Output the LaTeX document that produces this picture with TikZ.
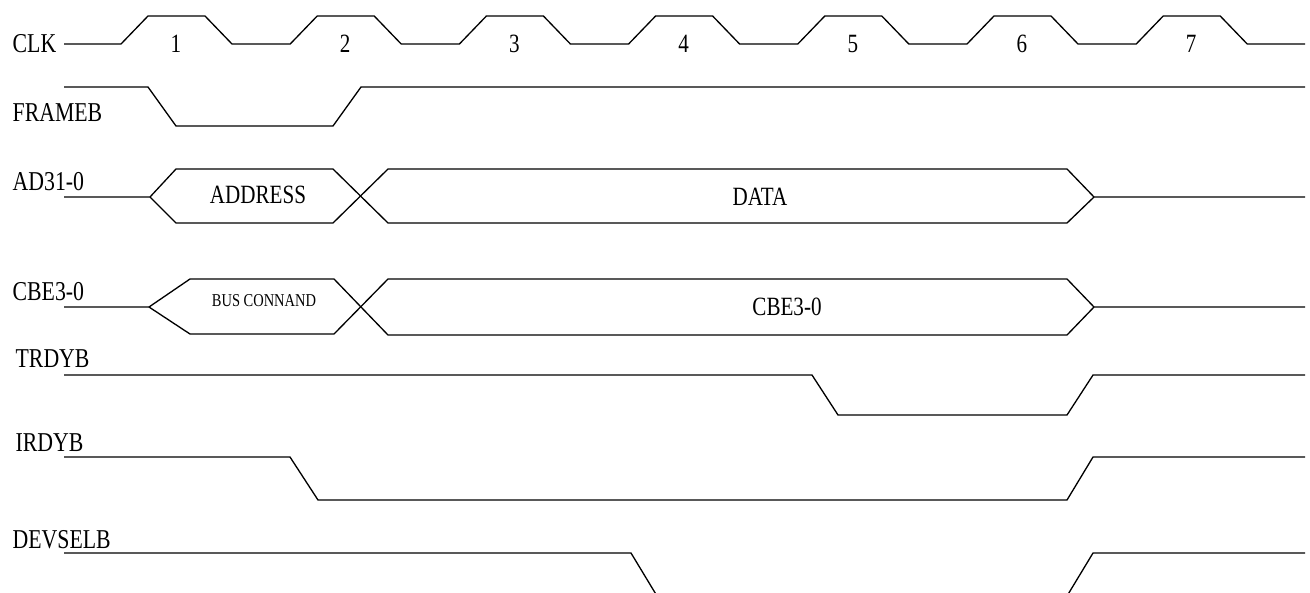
\documentclass[tikz,border=0pt]{standalone}
\usepackage{fontspec}
\setmainfont{Liberation Serif}[FakeStretch=0.8]

\begin{document}
\begin{tikzpicture}[x=0.02cm,y=-0.02cm,line width=0.75pt,line join=miter,
  lbl/.style={anchor=base west,inner sep=0pt,font=\fontsize{15.5}{18}\selectfont},
  txt/.style={anchor=base,inner sep=0pt,font=\fontsize{15}{18}\selectfont}]
  \clip (0,0) rectangle (1310,592);
  % nombres de las senales
  \node[lbl] (clk) at (12,52) {CLK};
  \node[lbl] (frame) at (12,121) {FRAMEB};
  \node[lbl] (ad) at (12,190) {AD31-0};
  \node[lbl] (cbe) at (12,300) {CBE3-0};
  \node[lbl] (trdy) at (15,367) {TRDYB};
  \node[lbl] (irdy) at (15,451) {IRDYB};
  \node[lbl] (devsel) at (12,548) {DEVSELB};
  % reloj
  \draw (64,44) foreach \k in {0,...,6} {-- (121+169.2*\k,44) -- ++(27,-28) -- ++(57,0) -- ++(27,28)} -- (1305,44);
  \foreach \k in {1,...,7} \node[txt] (c\k) at (176+169.2*\k-169.2,52) {\k};
  % FRAMEB
  \draw (64,87)--(148,87)--(176,126)--(333,126)--(361,87)--(1305,87);
  % bus AD
  \draw (64,197)--(150,197)--(176,169)--(333,169)--(388,223)--(1067,223)--(1094,197)--(1305,197);
  \draw (150,197)--(176,223)--(333,223)--(388,169)--(1067,169)--(1094,197);
  \node[txt] (addr) at (258,203) {ADDRESS};
  \node[txt] (data) at (760,205) {DATA};
  % bus CBE
  \draw (64,307)--(149,307)--(190,279)--(334,279)--(388,335)--(1067,335)--(1094,307)--(1305,307);
  \draw (149,307)--(190,334)--(334,334)--(388,279)--(1067,279)--(1094,307);
  \node[txt,font=\fontsize{10.3}{12}\selectfont] (cmd) at (264,306) {BUS CONNAND};
  \node[txt] (be) at (787,315) {CBE3-0};
  % TRDYB, IRDYB, DEVSELB
  \draw (64,375)--(812,375)--(838,415)--(1067,415)--(1093,375)--(1305,375);
  \draw (64,457)--(290,457)--(318,500)--(1067,500)--(1093,457)--(1305,457);
  \draw (64,553)--(631,553)--(657,596)--(1067,596)--(1093,553)--(1305,553);
\end{tikzpicture}
\end{document}
